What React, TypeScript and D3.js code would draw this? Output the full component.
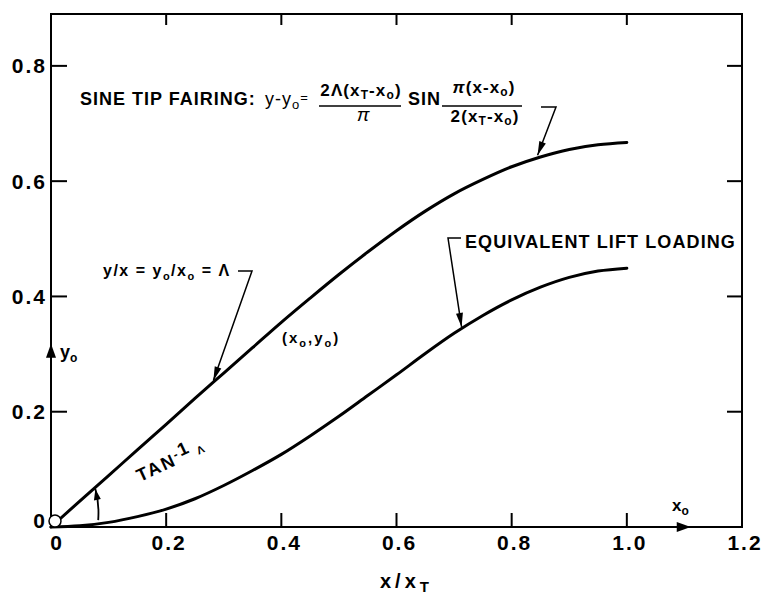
import React from "react";
import * as d3 from "d3";

// ---- data ----
const xStations = [0, 0.05, 0.1, 0.15, 0.2, 0.25, 0.3, 0.35, 0.4, 0.45, 0.5, 0.55, 0.6, 0.65, 0.7, 0.75, 0.8, 0.85, 0.9, 0.95, 1.0];
const fairingY = [0, 0.045, 0.089, 0.134, 0.178, 0.223, 0.267, 0.311, 0.355, 0.397, 0.438, 0.477, 0.514, 0.548, 0.578, 0.603, 0.625, 0.642, 0.655, 0.663, 0.667];
const loadingY = [0, 0.002, 0.008, 0.018, 0.031, 0.049, 0.072, 0.098, 0.126, 0.158, 0.192, 0.228, 0.264, 0.301, 0.336, 0.367, 0.394, 0.416, 0.433, 0.444, 0.449];

const xTickValues = [0, 0.2, 0.4, 0.6, 0.8, 1.0, 1.2];
const xTickLabels = ["0", "0.2", "0.4", "0.6", "0.8", "1.0", "1.2"];
const yTickValues = [0, 0.2, 0.4, 0.6, 0.8];
const yTickLabels = ["0", "0.2", "0.4", "0.6", "0.8"];
const X_MAX = 1.2;
const Y_TOP = 0.89;

const FF = "'Liberation Sans', Arial, Helvetica, sans-serif";

function arrowHead(x1: number, y1: number, x2: number, y2: number, len = 12, half = 3.2) {
  const dx = x2 - x1, dy = y2 - y1;
  const d = Math.hypot(dx, dy);
  const ux = dx / d, uy = dy / d;
  const bx = x2 - ux * len, by = y2 - uy * len;
  const px = -uy, py = ux;
  return `${x2},${y2} ${bx + px * half},${by + py * half} ${bx - px * half},${by - py * half}`;
}

export default function App() {
  const x = d3.scaleLinear().domain([0, X_MAX]).range([51, 742]);
  const y = d3.scaleLinear().domain([0, Y_TOP]).range([527, 14]);

  const line = d3
    .line<number>()
    .x((_, i) => x(xStations[i]))
    .y((v) => y(v))
    .curve(d3.curveMonotoneX);

  const innerX = xTickValues.filter((v) => v > 0 && v < X_MAX);
  const innerY = yTickValues.filter((v) => v > 0);

  // annotation anchor points on curves
  const sineTip = [x(0.845), y(0.645)];
  const lambdaTip = [x(0.282), y(0.254)];
  const loadTip = [x(0.713), y(0.347)];

  const yArrowTip = y(0.318);
  const xArrowTip = x(1.111);

  return (
    <svg
      width={762}
      height={600}
      style={{ position: "absolute", left: 0, top: 0, background: "#fff" }}
      fontFamily={FF}
    >
      <rect width={762} height={600} fill="#fff" />
      {/* frame */}
      <rect
        x={x(0)}
        y={y(Y_TOP)}
        width={x(X_MAX) - x(0)}
        height={y(0) - y(Y_TOP)}
        fill="none"
        stroke="#000"
        strokeWidth={2}
      />
      {/* ticks */}
      {innerX.map((v) => (
        <g key={"xt" + v}>
          <line x1={x(v)} x2={x(v)} y1={y(0)} y2={y(0) - 14} stroke="#000" strokeWidth={2} />
          <line x1={x(v)} x2={x(v)} y1={y(Y_TOP)} y2={y(Y_TOP) + 11} stroke="#000" strokeWidth={2} />
        </g>
      ))}
      {innerY.map((v) => (
        <g key={"yt" + v}>
          <line x1={x(0)} x2={x(0) + 16} y1={y(v)} y2={y(v)} stroke="#000" strokeWidth={2} />
          <line x1={x(X_MAX)} x2={x(X_MAX) - 15} y1={y(v)} y2={y(v)} stroke="#000" strokeWidth={2} />
        </g>
      ))}
      {/* tick labels */}
      {xTickValues.map((v, i) => (
        <text
          key={"xl" + v}
          x={x(v) + (i === 0 ? 6 : 3)}
          y={550}
          textAnchor="middle"
          fontSize={21}
          fontWeight="bold"
          letterSpacing={2}
        >
          {xTickLabels[i]}
        </text>
      ))}
      {yTickValues.map((v, i) => (
        <text
          key={"yl" + v}
          x={47}
          y={i === 0 ? y(v) - 7 : y(v)}
          textAnchor="end"
          dominantBaseline="central"
          fontSize={21}
          fontWeight="bold"
          letterSpacing={2}
        >
          {yTickLabels[i]}
        </text>
      ))}
      {/* axis title */}
      <text x={380} y={588} fontSize={20} fontWeight="bold" letterSpacing={4}>
        x/x<tspan fontSize={15} dy={4}>T</tspan>
      </text>

      {/* curves */}
      <path d={line(fairingY) || ""} fill="none" stroke="#000" strokeWidth={3} strokeLinecap="round" />
      <path d={line(loadingY) || ""} fill="none" stroke="#000" strokeWidth={3} strokeLinecap="round" />

      {/* axis arrows */}
      <polygon points={`${x(0)},${yArrowTip} ${x(0) - 5},${yArrowTip + 14} ${x(0) + 5},${yArrowTip + 14}`} fill="#000" />
      <text x={60} y={358} fontSize={18} fontWeight="bold">
        y<tspan fontSize={12} dy={4}>o</tspan>
      </text>
      <polygon points={`${xArrowTip},${y(0)} ${xArrowTip - 14},${y(0) - 5} ${xArrowTip - 14},${y(0) + 5}`} fill="#000" />
      <text x={672} y={511} fontSize={17} fontWeight="bold">
        x<tspan fontSize={12} dy={4}>o</tspan>
      </text>

      {/* origin circle */}
      <circle cx={x(0) + 4} cy={y(0) - 6} r={6} fill="#fff" stroke="#000" strokeWidth={1.5} />

      {/* angle arrow */}
      <path d={`M${x(0.082)},${y(0.012)} Q${x(0.084)},${y(0.042)} ${x(0.077)},${y(0.066)}`} fill="none" stroke="#000" strokeWidth={1.8} />
      <polygon points={arrowHead(x(0.081), y(0.045), x(0.077), y(0.066), 11, 3.5)} fill="#000" />
      <text
        transform={`translate(140,482) rotate(-25)`}
        fontSize={18}
        fontWeight="bold"
        letterSpacing={2}
      >
        TAN<tspan fontSize={12} dy={-6}>-</tspan><tspan fontSize={18}>1</tspan>
        <tspan fontSize={11} dy={6}> Λ</tspan>
      </text>

      {/* y/x = y0/x0 = Λ */}
      <text x={103} y={276} fontSize={16} fontWeight="bold" letterSpacing={1.5}>
        y/x = y<tspan fontSize={11} dy={4}>o</tspan>
        <tspan dy={-4}>/x</tspan>
        <tspan fontSize={11} dy={4}>o</tspan>
        <tspan dy={-4}> = Λ</tspan>
      </text>
      <polyline
        points={`238,271 252,271 ${lambdaTip[0]},${lambdaTip[1]}`}
        fill="none"
        stroke="#000"
        strokeWidth={1.5}
      />
      <polygon points={arrowHead(252, 271, lambdaTip[0], lambdaTip[1], 14, 3.5)} fill="#000" />

      {/* (x0,y0) */}
      <text x={282} y={343} fontSize={15} fontWeight="bold" letterSpacing={2}>
        (x<tspan fontSize={11} dy={4}>o</tspan>
        <tspan dy={-4}>,y</tspan>
        <tspan fontSize={11} dy={4}>o</tspan>
        <tspan dy={-4}>)</tspan>
      </text>

      {/* sine tip fairing formula */}
      <text x={80} y={105} fontSize={18} fontWeight="bold" letterSpacing={1}>
        SINE TIP FAIRING:
      </text>
      <text x={265} y={105} fontSize={18} letterSpacing={1}>
        y-y<tspan fontSize={13} dy={4}>o</tspan>
        <tspan fontSize={13} dy={-7}>=</tspan>
      </text>
      <line x1={319} x2={401} y1={106} y2={106} stroke="#000" strokeWidth={1.5} />
      <text x={361} y={96} textAnchor="middle" fontSize={17} fontWeight="bold" letterSpacing={1.1}>
        2Λ(x<tspan fontSize={12} dy={3}>T</tspan>
        <tspan dy={-3}>-x</tspan>
        <tspan fontSize={12} dy={3}>o</tspan>
        <tspan dy={-3}>)</tspan>
      </text>
      <text x={363} y={121} textAnchor="middle" fontSize={19} fontStyle="italic">
        π
      </text>
      <text x={408} y={105} fontSize={18} fontWeight="bold" letterSpacing={1}>
        SIN
      </text>
      <line x1={442} x2={522} y1={106} y2={106} stroke="#000" strokeWidth={1.5} />
      <text x={484} y={93} textAnchor="middle" fontSize={17} fontWeight="bold" letterSpacing={1.1}>
        <tspan fontStyle="italic">π</tspan>(x-x<tspan fontSize={12} dy={3}>o</tspan>
        <tspan dy={-3}>)</tspan>
      </text>
      <text x={485} y={122} textAnchor="middle" fontSize={17} fontWeight="bold" letterSpacing={1.1}>
        2(x<tspan fontSize={12} dy={3}>T</tspan>
        <tspan dy={-3}>-x</tspan>
        <tspan fontSize={12} dy={3}>o</tspan>
        <tspan dy={-3}>)</tspan>
      </text>
      <polyline points={`541,107 556,107 ${sineTip[0]},${sineTip[1]}`} fill="none" stroke="#000" strokeWidth={1.5} />
      <polygon points={arrowHead(556, 107, sineTip[0], sineTip[1], 14, 3.5)} fill="#000" />

      {/* equivalent lift loading */}
      <text x={465} y={248} fontSize={18} fontWeight="bold" letterSpacing={1.1}>
        EQUIVALENT LIFT LOADING
      </text>
      <polyline points={`461,238 448,238 ${loadTip[0]},${loadTip[1]}`} fill="none" stroke="#000" strokeWidth={1.5} />
      <polygon points={arrowHead(448, 238, loadTip[0], loadTip[1], 14, 3.5)} fill="#000" />
    </svg>
  );
}
